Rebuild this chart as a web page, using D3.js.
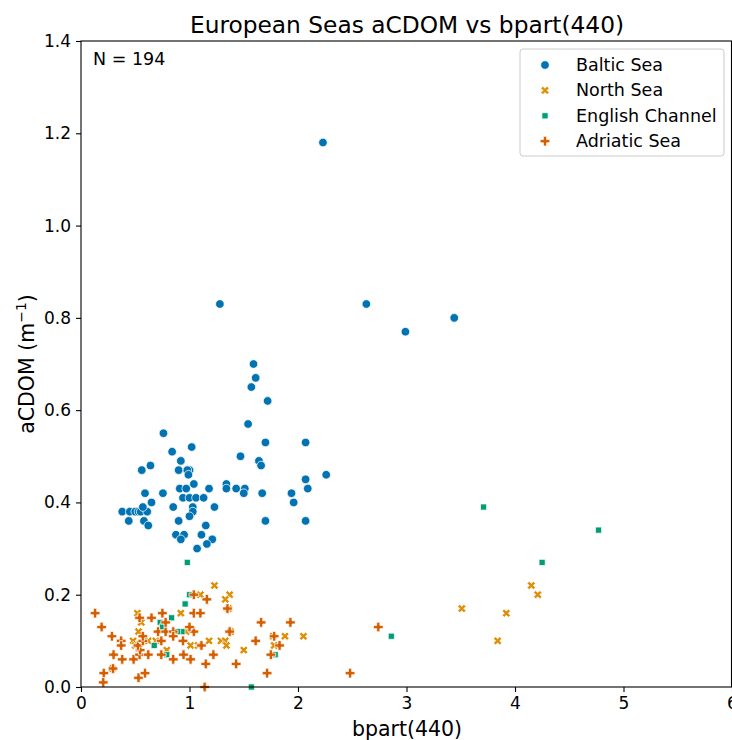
<!DOCTYPE html>
<html>
<head>
<meta charset="utf-8">
<script src="https://cdn.jsdelivr.net/npm/d3@7"></script>
<style>
  body { margin: 0; background: #fff; }
  svg { display: block; font-family: "DejaVu Sans", sans-serif; }
</style>
</head>
<body>
<script>
// series: [bpart(440), aCDOM]
var baltic = [
  [2.23,1.18],[1.28,0.83],[2.63,0.83],[2.99,0.77],[3.44,0.80],[1.59,0.70],[1.61,0.67],
  [1.57,0.65],[1.72,0.62],[1.54,0.57],[0.76,0.55],[1.47,0.50],[1.70,0.53],[2.07,0.53],
  [1.02,0.52],[0.84,0.51],[0.92,0.49],[1.64,0.49],[1.66,0.48],[0.64,0.48],[0.56,0.47],
  [0.90,0.47],[1.00,0.47],[0.98,0.47],[0.99,0.46],[2.26,0.46],[2.07,0.45],[2.09,0.43],
  [1.04,0.44],[1.34,0.44],[1.34,0.43],[1.43,0.43],[1.51,0.43],[1.50,0.42],[1.67,0.42],
  [1.94,0.42],[1.96,0.40],[0.91,0.43],[0.97,0.43],[1.18,0.43],[0.59,0.42],[0.755,0.42],
  [0.65,0.40],[0.94,0.41],[1.00,0.41],[1.06,0.41],[1.13,0.41],[1.23,0.39],[0.85,0.39],
  [1.03,0.39],[1.03,0.38],[1.00,0.37],[0.90,0.36],[1.70,0.36],[2.07,0.36],[1.15,0.35],
  [0.875,0.33],[0.95,0.33],[0.92,0.32],[1.11,0.33],[1.21,0.32],[1.16,0.31],[1.07,0.30],
  [0.38,0.38],[0.45,0.38],[0.50,0.38],[0.53,0.38],[0.55,0.38],[0.61,0.38],[0.57,0.39],
  [0.44,0.36],[0.58,0.36],[0.62,0.35]
];
var northSea = [
  [3.51,0.17],[3.92,0.16],[3.84,0.10],[4.15,0.22],[4.21,0.20],[2.05,0.11],[1.88,0.11],
  [1.78,0.09],[1.77,0.11],[1.23,0.22],[1.10,0.20],[1.37,0.20],[1.33,0.19],[1.36,0.17],
  [0.92,0.16],[0.52,0.16],[0.555,0.14],[0.53,0.12],[0.48,0.10],[0.62,0.10],[0.69,0.10],
  [0.97,0.12],[1.01,0.09],[1.08,0.09],[1.18,0.10],[1.29,0.10],[1.33,0.10],[1.34,0.09],
  [1.38,0.12],[1.50,0.08],[0.79,0.08],[0.50,0.09],[0.29,0.04]
];
var englishChannel = [
  [3.71,0.39],[4.77,0.34],[4.25,0.27],[2.86,0.11],[1.79,0.07],[0.98,0.27],[1.00,0.20],
  [0.96,0.18],[0.835,0.15],[0.73,0.14],[0.75,0.13],[0.93,0.12],[0.89,0.12],[0.675,0.09],
  [0.79,0.07],[1.57,0.00]
];
var adriatic = [
  [0.13,0.16],[0.19,0.13],[0.285,0.11],[0.37,0.10],[0.37,0.09],[0.30,0.07],[0.38,0.06],
  [0.485,0.06],[0.295,0.04],[0.21,0.03],[0.205,0.01],[0.53,0.02],[0.59,0.03],[0.54,0.07],
  [0.62,0.07],[0.545,0.08],[0.525,0.09],[0.57,0.10],[0.57,0.11],[0.74,0.07],[0.85,0.06],
  [0.945,0.07],[1.01,0.06],[0.74,0.10],[0.71,0.12],[0.78,0.12],[0.85,0.12],[0.85,0.11],
  [1.04,0.12],[1.11,0.09],[1.22,0.07],[1.15,0.05],[1.43,0.05],[1.61,0.10],[1.78,0.11],
  [1.83,0.09],[1.75,0.07],[1.715,0.03],[1.14,0.00],[1.37,0.12],[1.04,0.20],[1.16,0.19],
  [1.35,0.17],[1.04,0.16],[1.10,0.16],[1.66,0.14],[1.93,0.14],[1.00,0.13],[0.65,0.15],
  [0.75,0.16],[0.54,0.15],[0.78,0.14],[0.94,0.10],[2.74,0.13],[2.48,0.03]
];

var seaNames = ["Baltic Sea", "North Sea", "English Channel", "Adriatic Sea"];
var seaColors = ["#0173b2", "#de8f05", "#029e73", "#d55e00"];
var xTicks = [0, 1, 2, 3, 4, 5, 6];
var yTicks = [0.0, 0.2, 0.4, 0.6, 0.8, 1.0, 1.2, 1.4];

(function() {
  var W = 732, H = 740;
  var mLeft = 81, mRight = 732, mTop = 41, mBottom = 687;

  var svg = d3.select("body").append("svg")
      .attr("width", W)
      .attr("height", H);

  var x = d3.scaleLinear().domain([0, 6]).range([mLeft, mRight]);
  var y = d3.scaleLinear().domain([0, 1.4]).range([mBottom, mTop]);

  // markers: filled circle, filled X, square, filled plus (white edges like seaborn)
  var shapes = [
    d3.symbol().type(d3.symbolCircle).size(58),
    d3.symbol().type(d3.symbolCross).size(44),
    d3.symbol().type(d3.symbolSquare).size(38),
    d3.symbol().type(d3.symbolCross).size(52)
  ];
  var rotate = [0, 45, 0, 0];

  var allSeries = [baltic, northSea, englishChannel, adriatic];

  var plot = svg.append("g");
  allSeries.forEach(function(series, i) {
    plot.selectAll(".s" + i)
      .data(series)
      .enter().append("path")
        .attr("class", "s" + i)
        .attr("d", shapes[i]())
        .attr("transform", function(d) {
          return "translate(" + x(d[0]) + "," + y(d[1]) + ") rotate(" + rotate[i] + ")";
        })
        .attr("fill", seaColors[i])
        .attr("stroke", "#fff")
        .attr("stroke-width", 0.75);
  });

  // axes
  var xAxis = svg.append("g")
      .attr("transform", "translate(0," + mBottom + ")")
      .call(d3.axisBottom(x).tickValues(xTicks).tickFormat(d3.format("d"))
        .tickSizeOuter(0).tickSize(5).tickPadding(5));
  var yAxis = svg.append("g")
      .attr("transform", "translate(" + mLeft + ",0)")
      .call(d3.axisLeft(y).tickValues(yTicks).tickFormat(d3.format(".1f"))
        .tickSizeOuter(0).tickSize(5).tickPadding(5));

  [xAxis, yAxis].forEach(function(a) {
    a.select(".domain").remove();
    a.selectAll("line").attr("stroke", "#000").attr("stroke-width", 1.1);
    a.selectAll("text")
      .attr("fill", "#000")
      .style("font-family", "DejaVu Sans")
      .style("font-size", "17px");
  });

  // frame
  svg.append("rect")
      .attr("x", mLeft)
      .attr("y", mTop)
      .attr("width", mRight - mLeft - 0.5)
      .attr("height", mBottom - mTop)
      .attr("fill", "none")
      .attr("stroke", "#000")
      .attr("stroke-width", 1.1);

  // title & labels
  svg.append("text")
      .attr("x", 407)
      .attr("y", 33)
      .attr("text-anchor", "middle")
      .style("font-size", "23.3px")
      .text("European Seas aCDOM vs bpart(440)");

  svg.append("text")
      .attr("x", 407)
      .attr("y", 736)
      .attr("text-anchor", "middle")
      .style("font-size", "20.5px")
      .text("bpart(440)");

  var yl = svg.append("text")
      .attr("transform", "translate(34," + ((mTop + mBottom) / 2) + ") rotate(-90)")
      .attr("text-anchor", "middle")
      .style("font-size", "20.5px");
  yl.append("tspan").text("aCDOM (m");
  yl.append("tspan").attr("dy", -8).style("font-size", "14px").text("\u22121");
  yl.append("tspan").attr("dy", 8).text(")");

  svg.append("text")
      .attr("x", 93)
      .attr("y", 65)
      .style("font-size", "17.5px")
      .text("N = 194");

  // legend
  var lg = svg.append("g");
  lg.append("rect")
      .attr("x", 520)
      .attr("y", 49)
      .attr("width", 204)
      .attr("height", 107)
      .attr("rx", 3)
      .attr("fill", "#fff")
      .attr("fill-opacity", 0.8)
      .attr("stroke", "#ccc")
      .attr("stroke-width", 1);

  seaNames.forEach(function(name, i) {
    var ly = 65 + i * 25.4;
    lg.append("path")
      .attr("d", shapes[i]())
      .attr("transform", "translate(545," + ly + ") rotate(" + rotate[i] + ")")
      .attr("fill", seaColors[i])
      .attr("stroke", "#fff")
      .attr("stroke-width", 0.75);
    lg.append("text")
      .attr("x", 576)
      .attr("y", ly + 6)
      .style("font-size", "17.5px")
      .text(name);
  });
})();
</script>
</body>
</html>
